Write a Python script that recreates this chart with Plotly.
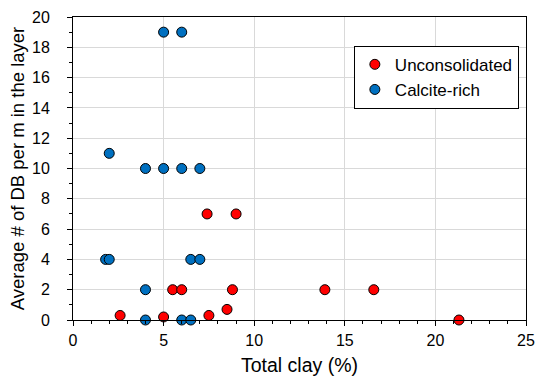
import plotly.graph_objects as go

# Unconsolidated samples: total clay (%) vs average DB count per metre
uncons_clay = [2.6, 5.0, 7.5, 8.5, 21.3, 5.5, 6.0, 8.8, 13.9, 16.6, 7.4, 9.0]
uncons_db = [0.3, 0.2, 0.3, 0.7, 0.0, 2, 2, 2, 2, 2, 7, 7]

# Calcite-rich samples
calc_clay = [4, 6, 6.5, 4, 1.8, 2.0, 6.5, 7.0, 4, 5, 6, 7, 2.0, 5, 6]
calc_db = [0, 0, 0, 2, 4, 4, 4, 4, 10, 10, 10, 10, 11, 19, 19]

FONT = "Liberation Sans, Arial, sans-serif"

fig = go.Figure()
fig.add_trace(go.Scatter(
    x=uncons_clay, y=uncons_db, mode="markers", name="Unconsolidated",
    marker=dict(color="#FF0000", size=10, line=dict(color="black", width=1)),
    cliponaxis=False,
))
fig.add_trace(go.Scatter(
    x=calc_clay, y=calc_db, mode="markers", name="Calcite-rich",
    marker=dict(color="#0070C0", size=10, line=dict(color="black", width=1)),
    cliponaxis=False,
))

axis_common = dict(
    showline=True, linecolor="black", linewidth=1, mirror=True,
    showgrid=True, gridcolor="#D9D9D9", gridwidth=1,
    ticks="outside", ticklen=5, tickcolor="black",
    tickfont=dict(size=16, color="black", family=FONT),
    zeroline=False, automargin=False,
)

fig.update_layout(
    width=537, height=376,
    margin=dict(l=73, r=11, t=17, b=56),
    paper_bgcolor="white", plot_bgcolor="white",
    font=dict(family=FONT, color="black"),
    xaxis=dict(
        range=[0, 25], dtick=5, tick0=0,
        title=dict(text="Total clay (%)", font=dict(size=19.5), standoff=12),
        minor=dict(ticks="outside", ticklen=3, dtick=1, tickcolor="black", showgrid=False),
        ticklabelstandoff=1,
        **axis_common,
    ),
    yaxis=dict(
        range=[0, 20], dtick=2, tick0=0,
        title=dict(text="Average # of DB per m in the layer", font=dict(size=18.5), standoff=2),
        minor=dict(ticks="outside", ticklen=3, dtick=1, tickcolor="black", showgrid=False),
        ticklabelstandoff=14,
        **axis_common,
    ),
    legend=dict(
        x=0.62, y=0.905, xanchor="left", yanchor="top",
        bordercolor="black", borderwidth=1, bgcolor="white",
        font=dict(size=17, family=FONT),
        itemwidth=30, tracegroupgap=0,
    ),
    showlegend=True,
)

fig.write_html("out.html")
